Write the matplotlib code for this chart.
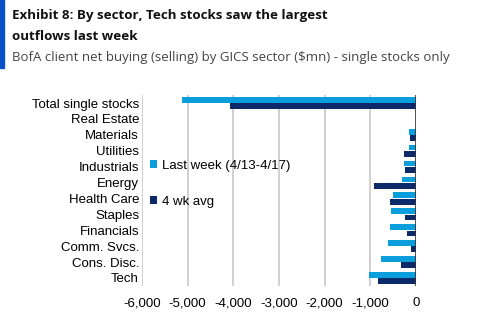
#BofA client flows by GICS sector - horizontal bar chart
import matplotlib
matplotlib.use('Agg')
import matplotlib.pyplot as plt
import matplotlib.patches as patches
import numpy as np

plt.rcParams['font.family'] = 'Liberation Sans'

#Sectors, top to bottom
sectors = ['Total single stocks', 'Real Estate', 'Materials', 'Utilities', 'Industrials',
           'Energy', 'Health Care', 'Staples', 'Financials', 'Comm. Svcs.', 'Cons. Disc.', 'Tech']

#Values in $mn
last_week = [-5120, -10, -160, -160, -270, -306, -503, -540, -577, -620, -766, -1037]
four_wk_avg = [-4063, -5, -125, -256, -234, -928, -562, -250, -197, -110, -328, -840]

xticks = [-6000, -5000, -4000, -3000, -2000, -1000, 0]
xtick_labels = ['-6,000', '-5,000', '-4,000', '-3,000', '-2,000', '-1,000', '0']

light_blue = '#0a9fdc'
dark_blue = '#0c2a69'

fig = plt.figure(figsize=(4.81, 3.36), dpi=100)
ax = fig.add_axes([0.295, 0.149, 0.570, 0.568])

y = np.arange(len(sectors))
bh = 0.36
b1 = ax.barh(y - 0.2, last_week, height=bh, color=light_blue, label='Last week (4/13-4/17)', zorder=3)
b2 = ax.barh(y + 0.2, four_wk_avg, height=bh, color=dark_blue, label='4 wk avg', zorder=3)

ax.set_xlim(-6000, 0)
ax.set_ylim(len(sectors) - 0.5, -0.5)
ax.set_yticks(y)
ax.set_yticklabels(sectors, fontsize=9.5)
ax.set_xticks(xticks)
ax.set_xticklabels(xtick_labels, fontsize=9.5)
ax.tick_params(axis='both', length=0)
ax.tick_params(axis='y', pad=2)
ax.tick_params(axis='x', pad=8)

for s in ax.spines.values():
    s.set_visible(False)

#vertical gridlines
for t in xticks[:-1]:
    ax.axvline(t, color='#c8c8c8', linewidth=1.2, zorder=1)
ax.axvline(0, color='#333333', linewidth=1.2, zorder=4)

#Legend with two entries far apart
leg = ax.legend(handles=[b1, b2], loc='upper left', bbox_to_anchor=(0.012, 0.69),
                frameon=False, handlelength=0.5, handleheight=0.5, handletextpad=0.4,
                labelspacing=1.85, borderaxespad=0, prop={'size': 9.5})

#Title block
fig.add_artist(patches.Rectangle((0, 1 - 68 / 336), 4 / 481, 68 / 336,
                                 transform=fig.transFigure, color='#0a50c8'))
title_font = 'Open Sans'
fig.text(12 / 481, 1 - 15 / 336, 'Exhibit 8: By sector, Tech stocks saw the largest',
         fontsize=9.6, fontweight='bold', family=title_font, color='#111111', va='center')
fig.text(12 / 481, 1 - 36 / 336, 'outflows last week',
         fontsize=9.6, fontweight='bold', family=title_font, color='#111111', va='center')
fig.text(12 / 481, 1 - 57 / 336, 'BofA client net buying (selling) by GICS sector ($mn) - single stocks only',
         fontsize=9.5, family=title_font, color='#444444', va='center')

fig.savefig('out.png', dpi=100)
